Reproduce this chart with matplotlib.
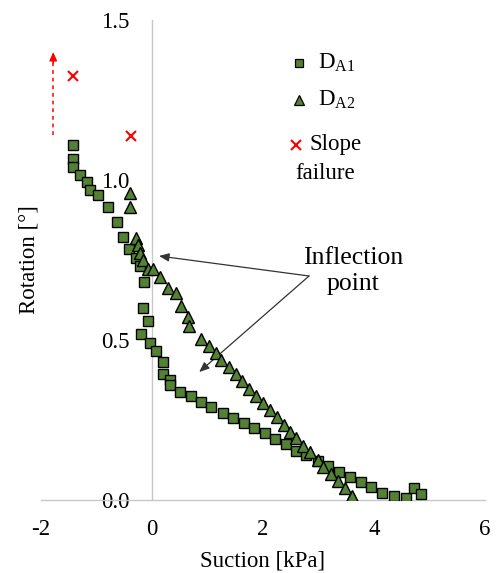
import matplotlib
matplotlib.use("Agg")
import matplotlib.pyplot as plt
from matplotlib.lines import Line2D

plt.rcParams['font.family'] = ['Liberation Serif', 'DejaVu Serif']
plt.rcParams['mathtext.fontset'] = 'custom'
plt.rcParams['mathtext.rm'] = 'Liberation Serif'
plt.rcParams['mathtext.it'] = 'Liberation Serif:italic'

# Rotation vs. suction measurements
da1_suction = [-1.42, -1.42, -1.42, -1.29, -1.18, -1.11, -0.97, -0.79, -0.63, -0.52,
               -0.41, -0.29, -0.21, -0.14, -0.16, -0.08, -0.19, -0.04, 0.08, 0.19,
               0.20, 0.32, 0.32, 0.51, 0.70, 0.89, 1.07, 1.28, 1.46, 1.66,
               1.83, 2.03, 2.21, 2.42, 2.60, 2.78, 2.99, 3.18, 3.37, 3.56,
               3.76, 3.95, 4.15, 4.37, 4.57, 4.72, 4.85]
da1_rotation = [1.110, 1.065, 1.040, 1.015, 0.994, 0.969, 0.954, 0.916, 0.870, 0.823,
                0.784, 0.755, 0.731, 0.680, 0.600, 0.560, 0.519, 0.490, 0.467, 0.432,
                0.393, 0.375, 0.360, 0.339, 0.325, 0.307, 0.292, 0.273, 0.257, 0.242,
                0.224, 0.208, 0.190, 0.174, 0.153, 0.140, 0.122, 0.106, 0.089, 0.071,
                0.057, 0.040, 0.023, 0.0125, 0.005, 0.037, 0.019]

da2_suction = [-0.40, -0.39, -0.28, -0.25, -0.21, -0.16, -0.07, 0.02, 0.14, 0.29,
               0.43, 0.53, 0.64, 0.67, 0.89, 1.03, 1.16, 1.25, 1.39, 1.51,
               1.63, 1.75, 1.88, 2.00, 2.12, 2.25, 2.37, 2.49, 2.60, 2.72,
               2.84, 2.99, 3.09, 3.22, 3.35, 3.47, 3.58, 3.60, 3.62, 3.61, 3.60, 3.59, 3.61]
da2_rotation = [0.958, 0.915, 0.818, 0.797, 0.771, 0.750, 0.721, 0.721, 0.698, 0.661,
                0.646, 0.606, 0.573, 0.545, 0.502, 0.481, 0.458, 0.4375, 0.417, 0.394,
                0.372, 0.346, 0.325, 0.304, 0.281, 0.258, 0.234, 0.213, 0.193, 0.169,
                0.151, 0.125, 0.102, 0.081, 0.059, 0.038, 0.004, 0.002, 0.004, 0.007,
                0.009, 0.006, 0.011]

failure_suction = [-1.42, -0.38]
failure_rotation = [1.325, 1.1375]

x_ticks = [-2, 0, 2, 4, 6]
y_ticks = [0.0, 0.5, 1.0, 1.5]

green = '#548235'
axis_gray = '#c8c8c8'
fs = 16.5

fig = plt.figure(figsize=(4.96, 5.73), dpi=100)
ax = fig.add_axes([0.0827, 0.1274, 0.895, 0.8377])

ax.plot(da1_suction, da1_rotation, 's', ms=7.2, mfc=green, mec='black', mew=1.0,
        linestyle='none', zorder=3)
ax.plot(da2_suction, da2_rotation, '^', ms=8.5, mfc=green, mec='black', mew=1.0,
        linestyle='none', zorder=4)
ax.plot(failure_suction, failure_rotation, 'x', ms=7.5, mec='red', mew=1.5,
        linestyle='none', zorder=5)

# Red dashed arrow indicating continuing rotation
ax.plot([-1.78, -1.78], [1.14, 1.37], color='red', lw=1.1, ls=(0, (2.5, 2.5)))
ax.annotate('', xy=(-1.78, 1.40), xytext=(-1.78, 1.365),
            arrowprops=dict(arrowstyle='-|>,head_length=0.5,head_width=0.22',
                            color='red', lw=1.1, shrinkA=0, shrinkB=0))

# Inflection point annotation
ax.text(3.63, 0.716, 'Inflection\npoint', fontsize=18.5, ha='center', va='center',
        linespacing=1.25)
arrow_kw = dict(arrowstyle='-|>,head_length=0.6,head_width=0.25', color='#333333',
                lw=0.9, shrinkA=0, shrinkB=0)
ax.annotate('', xy=(0.126, 0.7625), xytext=(2.83, 0.70), arrowprops=arrow_kw)
ax.annotate('', xy=(0.85, 0.40), xytext=(2.83, 0.70), arrowprops=arrow_kw)

ax.set_xlim(-2, 6)
ax.set_ylim(0, 1.5)
ax.set_xticks(x_ticks)
ax.set_xticklabels([f'{v:d}' for v in x_ticks])
ax.set_yticks(y_ticks)
ax.set_yticklabels([f'{v:.1f}' for v in y_ticks])

for side in ('top', 'right'):
    ax.spines[side].set_visible(False)
ax.spines['left'].set_position(('data', 0))
for side in ('left', 'bottom'):
    ax.spines[side].set_color(axis_gray)
    ax.spines[side].set_linewidth(1.0)
ax.tick_params(axis='both', length=0, labelsize=fs)
ax.tick_params(axis='y', pad=16)
ax.tick_params(axis='x', pad=14)

ax.set_xlabel('Suction [kPa]', fontsize=fs)
ax.set_ylabel('Rotation [°]', fontsize=fs)
ax.xaxis.set_label_coords(0.498, -0.105)
ax.yaxis.set_label_coords(-0.003, 0.5)

# Legend keys
ax.add_line(Line2D([0.582], [0.910], marker='s', ms=6, mfc=green, mec='black', mew=0.9,
                   transform=ax.transAxes, clip_on=False))
ax.text(0.624, 0.910, r'D$_{\mathrm{A1}}$', transform=ax.transAxes, fontsize=fs,
        va='center', ha='left')
ax.add_line(Line2D([0.582], [0.833], marker='^', ms=6.5, mfc=green, mec='black', mew=0.9,
                   transform=ax.transAxes, clip_on=False))
ax.text(0.624, 0.833, r'D$_{\mathrm{A2}}$', transform=ax.transAxes, fontsize=fs,
        va='center', ha='left')
ax.add_line(Line2D([0.574], [0.740], marker='x', ms=7, mec='red', mew=1.5,
                   transform=ax.transAxes, clip_on=False))
ax.text(0.604, 0.740, 'Slope', transform=ax.transAxes, fontsize=fs,
        va='center', ha='left')
ax.text(0.572, 0.681, 'failure', transform=ax.transAxes, fontsize=fs,
        va='center', ha='left')

fig.savefig('out.png', dpi=100)
